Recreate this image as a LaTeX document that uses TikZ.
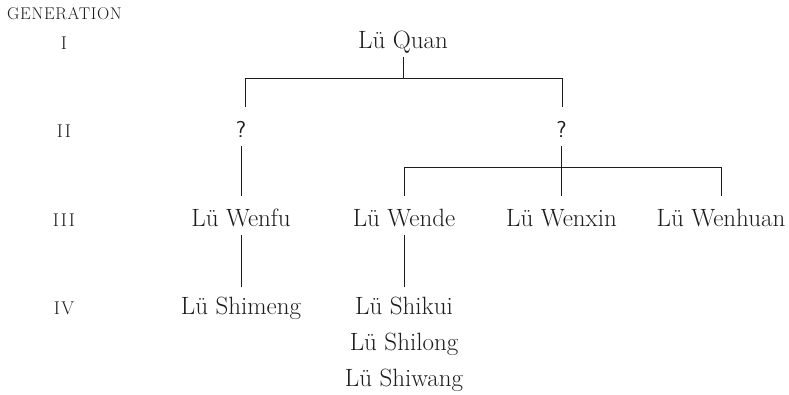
\documentclass[tikz,border=0pt]{standalone}
\usepackage{fontspec}
\usetikzlibrary{calc}
\definecolor{ink}{RGB}{28,28,28}
\newfontfamily\spacedcaps[LetterSpace=4]{Latin Modern Roman}
\newfontfamily\spacednum[LetterSpace=8]{Latin Modern Roman}
\begin{document}
\begin{tikzpicture}[x=1pt,y=-1pt,
  person/.style={anchor=base,inner xsep=2pt,inner ysep=8pt,outer sep=0pt,
    text height=23pt,text depth=0pt,text=ink,font=\fontsize{25}{30}\selectfont},
  unknown/.style={person,font=\fontsize{23}{27}\selectfont\sffamily},
  gen/.style={anchor=base,inner sep=0pt,text=ink,font=\spacednum\fontsize{18.5}{21}\selectfont},
  header/.style={anchor=base west,inner sep=0pt,text=ink,font=\spacedcaps\fontsize{17}{19}\selectfont},
  link/.style={draw=ink,line width=1pt}]
\useasboundingbox (0,0) rectangle (789,395);
% generation column
\node[header] (hdr) at (7,20) {GENERATION};
\node[gen] (g1) at (64,50) {I};
\node[gen] (g2) at (64,138) {II};
\node[gen] (g3) at (64,226.7) {III};
\node[gen] (g4) at (64,314) {IV};
% people
\node[person] (quan) at (403,49) {Lü Quan};
\node[unknown] (q1) at (241,138) {?};
\node[unknown] (q2) at (561.5,138) {?};
\node[person] (wenfu) at (241,226.7) {Lü Wenfu};
\node[person] (wende) at (404,226.7) {Lü Wende};
\node[person] (wenxin) at (561.5,226.7) {Lü Wenxin};
\node[person] (wenhuan) at (721,226.7) {Lü Wenhuan};
\node[person] (shimeng) at (241,314) {Lü Shimeng};
\node[person] (shikui) at (404,314) {Lü Shikui};
\node[person] (shilong) at (404,350.5) {Lü Shilong};
\node[person] (shiwang) at (404,386.5) {Lü Shiwang};
% connectors
\draw[link] (quan.south) -- ++(0,-22pt) -| ([xshift=4pt]q1.north);
\draw[link] (quan.south) ++(0,-22pt) -| ([xshift=1pt]q2.north);
\draw[link] (q1.south) -- (wenfu.north);
\draw[link] (q2.south) -- (wenxin.north);
\draw[link] (wende.north) -- ++(0,28pt) -| (wenhuan.north);
\draw[link] (wenfu.south) -- ([yshift=-4pt]shimeng.north);
\draw[link] (wende.south) -- ([yshift=-4pt]shikui.north);
\end{tikzpicture}
\end{document}
